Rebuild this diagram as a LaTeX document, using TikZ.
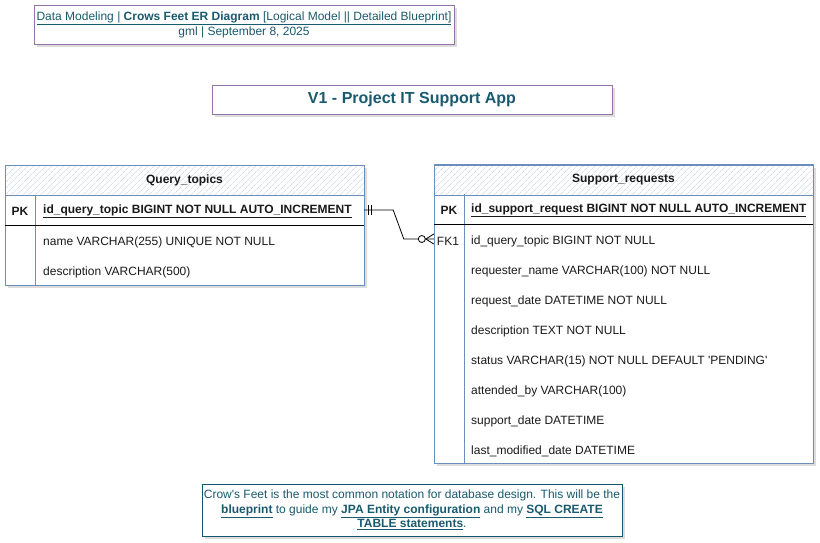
\documentclass[tikz,border=0pt]{standalone}
\usepackage{fontspec}
\setmainfont{Liberation Sans}
\usetikzlibrary{positioning}
\usetikzlibrary{patterns.meta}
\usetikzlibrary{calc}
\usetikzlibrary{backgrounds}
\definecolor{purpleline}{HTML}{9673A6}
\definecolor{blueline}{HTML}{6C8EBF}
\definecolor{tealtext}{HTML}{1A5A6E}
\definecolor{tealline}{HTML}{12576C}
\definecolor{hatchblue}{HTML}{C5D0E2}
\definecolor{rowtext}{HTML}{1A1A1A}
\definecolor{shadowgray}{HTML}{DCDCDC}

\begin{document}
\begin{tikzpicture}
  [x=1pt,y=-1pt,
  infobox/.style={draw=purpleline,thick,fill=white,inner sep=0pt,text=tealtext,align=center},
  notebox/.style={draw=tealline,thick,fill=white,inner sep=0pt,text=tealtext,align=center,font=\fontsize{12}{14.5}\selectfont},
  tbl/.style={draw=blueline,thick,fill=white,inner sep=0pt},
  tblhead/.style={draw=blueline,thick,preaction={fill=white},pattern={Lines[angle=45,distance=4pt,line width=0.5pt]},pattern color=hatchblue,inner sep=0pt,font=\bfseries\fontsize{12}{14}\selectfont,text=rowtext},
  keyrow/.style={inner sep=0pt,minimum height=30pt},
  key/.style={inner sep=0pt,font=\fontsize{12}{14}\selectfont,text=rowtext},
  field/.style={anchor=west,inner sep=0pt,font=\fontsize{12}{14}\selectfont,text=rowtext},
  pkfield/.style={anchor=west,inner sep=0pt,font=\bfseries\fontsize{12}{14}\selectfont,text=rowtext},
  sepline/.style={draw=blueline,thick},
  keyline/.style={draw=black,thick},
  relline/.style={draw=black,thick},
  boxshadow/.style={fill=shadowgray}]
  \useasboundingbox (0,0) rectangle (820,542);

  \node[infobox,minimum width=420pt,minimum height=39pt,font=\fontsize{12}{15}\selectfont] (info) at (244,24.5) {\underline{Data Modeling | \textbf{Crows Feet ER Diagram} [Logical Model || Detailed Blueprint]}\\gml | September 8, 2025};

  \node[infobox,minimum width=400pt,minimum height=29pt,font=\bfseries\fontsize{16}{18}\selectfont] (title) at (412,99.5) {V1 - Project IT Support App};

  \node[tbl,minimum width=359pt,minimum height=120pt] (qt) at (184.5,225) {};
  \node[tblhead,minimum width=359pt,minimum height=30pt] (qt0) at (184.5,180) {Query\_topics};
  \node[keyrow,minimum width=359pt] (qtpk) at (184.5,210) {};
  \node[key] (qtk1) at (20,211) {\bfseries PK};
  \node[pkfield] (qt1) at (43,211) {\underline{id\_query\_topic BIGINT NOT NULL AUTO\_INCREMENT}};
  \node[field] (qt2) at (43,242) {name VARCHAR(255) UNIQUE NOT NULL};
  \node[field] (qt3) at (43,272) {description VARCHAR(500)};
  \draw[sepline] (35,195) -- (35,285);
  \draw[keyline] (qt.west |- 0,225) -- (qt.east |- 0,225);

  \node[tbl,minimum width=379pt,minimum height=299pt] (sr) at (623.5,313.5) {};
  \node[tblhead,minimum width=379pt,minimum height=30pt] (sr0) at (623.5,180) {Support\_requests};
  \node[keyrow,minimum width=379pt] (srpk) at (623.5,209) {};
  \node[key] (srk1) at (449,210) {\bfseries PK};
  \node[key] (srk2) at (448,241) {FK1};
  \node[keyrow,minimum width=379pt] (srfk) at (623.5,239) {};
  \node[pkfield] (sr1) at (471,210) {\underline{id\_support\_request BIGINT NOT NULL AUTO\_INCREMENT}};
  \node[field] (sr2) at (471,241) {id\_query\_topic BIGINT NOT NULL};
  \node[field] (sr3) at (471,271) {requester\_name VARCHAR(100) NOT NULL};
  \node[field] (sr4) at (471,301) {request\_date DATETIME NOT NULL};
  \node[field] (sr5) at (471,331) {description TEXT NOT NULL};
  \node[field] (sr6) at (471,361) {status VARCHAR(15) NOT NULL DEFAULT \textquotesingle PENDING\textquotesingle};
  \node[field] (sr7) at (471,391) {attended\_by VARCHAR(100)};
  \node[field] (sr8) at (471,421) {support\_date DATETIME};
  \node[field] (sr9) at (471,451) {last\_modified\_date DATETIME};
  \draw[sepline] (464,194) -- (464,463);
  \draw[keyline] (sr.west |- 0,224) -- (sr.east |- 0,224);

  \draw[relline] (qtpk.east) -- ++(29,0) -- ($(srfk.west)+(-30,0)$) -- (srfk.west);
  \draw[relline] ($(qtpk.east)+(4,-5)$) -- ++(0,10);
  \draw[relline] ($(qtpk.east)+(7,-5)$) -- ++(0,10);
  \draw[relline,fill=white] ($(srfk.west)+(-12,0)$) circle (3.5pt);
  \draw[relline] ($(srfk.west)+(-8,0)$) -- ($(srfk.west)+(0,-5)$);
  \draw[relline] ($(srfk.west)+(-8,0)$) -- ($(srfk.west)+(0,5)$);

  \node[notebox,minimum width=420pt,minimum height=52pt] (note) at (412,510) {Crow\textquotesingle s Feet is the most common notation for database design. This will be the\\\textbf{\underline{blueprint}} to guide my \textbf{\underline{JPA Entity configuration}} and my \textbf{\underline{SQL CREATE}}\\\textbf{\underline{TABLE statements}}.};

  \begin{scope}[on background layer]
    \fill[boxshadow] ($(info.north west)+(3,3)$) rectangle ($(info.south east)+(3,3)$);
    \fill[boxshadow] ($(title.north west)+(3,3)$) rectangle ($(title.south east)+(3,3)$);
    \fill[boxshadow] ($(qt0.north west)+(3,3)$) rectangle ($(qt.south east)+(3,3)$);
    \fill[boxshadow] ($(sr0.north west)+(3,3)$) rectangle ($(sr.south east)+(3,3)$);
    \fill[boxshadow] ($(note.north west)+(3,3)$) rectangle ($(note.south east)+(3,3)$);
  \end{scope}
\end{tikzpicture}
\end{document}
